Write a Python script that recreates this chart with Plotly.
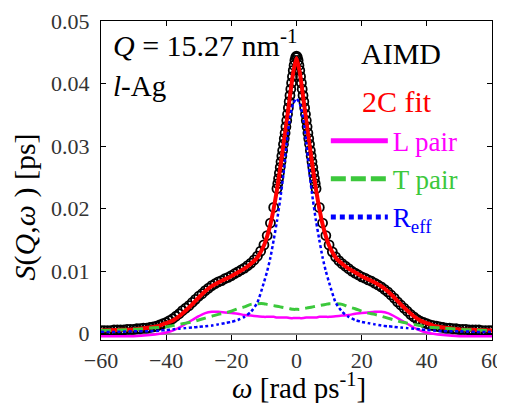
import plotly.graph_objects as go

# ---------------- data ----------------
omega_aimd = [-60, -59, -58, -57, -56, -55, -54, -53, -52, -51, -50, -49, -48, -47, -46, -45, -44, -43, -42, -41,
              -40, -39, -38, -37, -36, -35, -34, -33, -32, -31, -30, -29, -28, -27, -26, -25, -24, -23, -22, -21,
              -20, -19, -18, -17, -16, -15, -14, -13, -12, -11, -10, -9, -8, -7, -6,
              -5.75, -5.5, -5.25, -5, -4.75, -4.5, -4.25, -4, -3.75, -3.5, -3.25, -3, -2.75, -2.5, -2.25, -2,
              -1.75, -1.5, -1.25, -1, -0.75, -0.5, -0.25, 0, 0.25, 0.5, 0.75, 1, 1.25, 1.5, 1.75,
              2, 2.25, 2.5, 2.75, 3, 3.25, 3.5, 3.75, 4, 4.25, 4.5, 4.75, 5, 5.25, 5.5, 5.75,
              6, 7, 8, 9, 10, 11, 12, 13, 14, 15, 16, 17, 18, 19, 20, 21, 22, 23, 24, 25, 26, 27, 28, 29,
              30, 31, 32, 33, 34, 35, 36, 37, 38, 39, 40, 41, 42, 43, 44, 45, 46, 47, 48, 49, 50, 51, 52,
              53, 54, 55, 56, 57, 58, 59, 60]
s_aimd = [0.0005, 0.0005, 0.0005, 0.0005, 0.0006, 0.0006, 0.0006, 0.0006, 0.0007, 0.0007, 0.0007, 0.0008, 0.0008,
          0.0009, 0.0009, 0.0010, 0.0011, 0.0012, 0.0014, 0.0016, 0.0018, 0.0021, 0.0024, 0.0028, 0.0032, 0.0037,
          0.0041, 0.0045, 0.0050, 0.0055, 0.0060, 0.0064, 0.0069, 0.0073, 0.0077, 0.0080, 0.0083, 0.0085, 0.0088,
          0.0090, 0.0093, 0.0096, 0.0099, 0.0102, 0.0105, 0.0109, 0.0113, 0.0118, 0.0124, 0.0132, 0.0142, 0.0157,
          0.0177, 0.0202, 0.0232,
          0.0240, 0.0248, 0.0257, 0.0266, 0.0275, 0.0284, 0.0293, 0.0303, 0.0312, 0.0321, 0.0331, 0.0341, 0.0351,
          0.0361, 0.0371, 0.0381, 0.0391, 0.0401, 0.0411, 0.0421, 0.0429, 0.0437, 0.0442, 0.0444, 0.0442, 0.0437,
          0.0429, 0.0421, 0.0411, 0.0401, 0.0391, 0.0381, 0.0371, 0.0361, 0.0351, 0.0341, 0.0331, 0.0321, 0.0312,
          0.0303, 0.0293, 0.0284, 0.0275, 0.0266, 0.0257, 0.0248, 0.0240,
          0.0232, 0.0202, 0.0177, 0.0157, 0.0142, 0.0131, 0.0123, 0.0117, 0.0112, 0.0108, 0.0104, 0.0100, 0.0097,
          0.0094, 0.0091, 0.0089, 0.0086, 0.0084, 0.0081, 0.0078, 0.0075, 0.0071, 0.0067, 0.0062, 0.0057, 0.0051,
          0.0046, 0.0041, 0.0036, 0.0031, 0.0027, 0.0023, 0.0020, 0.0018, 0.0016, 0.0014, 0.0013, 0.0012, 0.0011,
          0.0010, 0.0009, 0.0009, 0.0008, 0.0008, 0.0007, 0.0007, 0.0007, 0.0006, 0.0006, 0.0006, 0.0006, 0.0005,
          0.0005, 0.0005, 0.0005]

omega_line = [-60, -55, -50, -45, -42, -40, -38, -36, -34, -32, -30, -28, -26, -24, -22, -20, -18, -16, -14, -12,
              -10, -9, -8, -7, -6, -5, -4, -3, -2, -1, 0, 1, 2, 3, 4, 5, 6, 7, 8, 9, 10,
              12, 14, 16, 18, 20, 22, 24, 26, 28, 30, 32, 34, 36, 38, 40, 42, 45, 50, 55, 60]
s_fit = [0.0005, 0.0006, 0.0007, 0.0010, 0.0013, 0.0017, 0.0021, 0.0028, 0.0037, 0.0047, 0.0058, 0.0068, 0.0076,
         0.0082, 0.0087, 0.0092, 0.0098, 0.0104, 0.0112, 0.0122, 0.0141, 0.0156, 0.0175, 0.0200, 0.0230, 0.0265,
         0.0302, 0.0340, 0.0380, 0.0418, 0.0441, 0.0418, 0.0380, 0.0340, 0.0302, 0.0265, 0.0230, 0.0200, 0.0175,
         0.0156, 0.0141, 0.0122, 0.0112, 0.0104, 0.0098, 0.0092, 0.0087, 0.0082, 0.0076, 0.0068, 0.0058, 0.0047,
         0.0037, 0.0028, 0.0021, 0.0017, 0.0013, 0.0010, 0.0007, 0.0006, 0.0005]
s_L = [-0.0004, -0.0004, -0.0004, -0.0002, 0.0000, 0.0002, 0.0005, 0.0010, 0.0016, 0.0022, 0.0028, 0.0033, 0.0035,
       0.0035, 0.0034, 0.0033, 0.0032, 0.0030, 0.0029, 0.0028, 0.0027, 0.0027, 0.0027, 0.0027, 0.0026, 0.0026,
       0.0026, 0.0026, 0.0025, 0.0025, 0.0025, 0.0025, 0.0025, 0.0026, 0.0026, 0.0026, 0.0026, 0.0027, 0.0027,
       0.0027, 0.0027, 0.0028, 0.0029, 0.0030, 0.0032, 0.0033, 0.0034, 0.0035, 0.0035, 0.0033, 0.0028, 0.0022,
       0.0016, 0.0010, 0.0005, 0.0002, 0.0000, -0.0002, -0.0004, -0.0004, -0.0004]
s_T = [0.0005, 0.0006, 0.0007, 0.0009, 0.0010, 0.0011, 0.0013, 0.0015, 0.0017, 0.0019, 0.0022, 0.0025, 0.0028,
       0.0031, 0.0033, 0.0036, 0.0040, 0.0043, 0.0047, 0.0048, 0.0048, 0.0047, 0.0046, 0.0045, 0.0044, 0.0043,
       0.0042, 0.0041, 0.0040, 0.0039, 0.0039, 0.0039, 0.0040, 0.0041, 0.0042, 0.0043, 0.0044, 0.0045, 0.0046,
       0.0047, 0.0048, 0.0048, 0.0047, 0.0043, 0.0040, 0.0036, 0.0033, 0.0031, 0.0028, 0.0025, 0.0022, 0.0019,
       0.0017, 0.0015, 0.0013, 0.0011, 0.0010, 0.0009, 0.0007, 0.0006, 0.0005]
s_R = [0.0003, 0.0003, 0.0004, 0.0004, 0.0005, 0.0006, 0.0007, 0.0008, 0.0009, 0.0010, 0.0011, 0.0012, 0.0013,
       0.0015, 0.0017, 0.0019, 0.0022, 0.0027, 0.0035, 0.0050, 0.0082, 0.0100, 0.0122, 0.0150, 0.0180, 0.0215,
       0.0255, 0.0305, 0.0345, 0.0368, 0.0376, 0.0368, 0.0345, 0.0305, 0.0255, 0.0215, 0.0180, 0.0150, 0.0122,
       0.0100, 0.0082, 0.0050, 0.0035, 0.0027, 0.0022, 0.0019, 0.0017, 0.0015, 0.0013, 0.0012, 0.0011, 0.0010,
       0.0009, 0.0008, 0.0007, 0.0006, 0.0005, 0.0004, 0.0004, 0.0003, 0.0003]

x_ticks = [-60, -40, -20, 0, 20, 40, 60]
y_ticks = [0, 0.01, 0.02, 0.03, 0.04, 0.05]
y_tick_text = ["0", "0.01", "0.02", "0.03", "0.04", "0.05"]

FONT = "Times New Roman"
MAG = "#FF00FF"
GRN = "#3CC83C"
BLU = "#0000FF"

fig = go.Figure()
fig.add_trace(go.Scatter(x=omega_aimd, y=s_aimd, mode="markers", showlegend=False,
                         marker=dict(symbol="circle-open", size=9, color="black",
                                     line=dict(width=1.8, color="black"))))
fig.add_trace(go.Scatter(x=omega_line, y=s_fit, mode="lines", showlegend=False,
                         line=dict(color="#FF0000", width=4, shape="spline", smoothing=0.6)))
fig.add_trace(go.Scatter(x=omega_line, y=s_L, mode="lines", showlegend=False,
                         line=dict(color=MAG, width=2.5, shape="spline", smoothing=0.8)))
fig.add_trace(go.Scatter(x=omega_line, y=s_T, mode="lines", showlegend=False,
                         line=dict(color=GRN, width=3, dash="10px,6px", shape="spline", smoothing=0.8)))
fig.add_trace(go.Scatter(x=omega_line, y=s_R, mode="lines", showlegend=False,
                         line=dict(color=BLU, width=2.5, dash="3px,2.5px", shape="spline", smoothing=0.6)))

# legend-only entries (thicker samples as in the reference)
fig.add_trace(go.Scatter(x=[None], y=[None], mode="lines", name="<span style='color:#FF00FF'>L pair</span>",
                         line=dict(color=MAG, width=5)))
fig.add_trace(go.Scatter(x=[None], y=[None], mode="lines", name="<span style='color:#3CC83C'>T pair</span>",
                         line=dict(color=GRN, width=5, dash="15px,5px")))
fig.add_trace(go.Scatter(x=[None], y=[None], mode="lines",
                         name="<span style='color:#0000FF'>R<sub>eff</sub></span>",
                         line=dict(color=BLU, width=5, dash="5px,4px")))

# page body has an 8px margin: plot area placed at window px (101..492, 21..340)
fig.update_layout(
    width=497, height=395,
    margin=dict(l=93, r=13, t=13, b=63),
    paper_bgcolor="white", plot_bgcolor="white",
    font=dict(family=FONT, size=21, color="#333333"),
    legend=dict(x=0.575, y=0.70, xanchor="left", yanchor="top", bgcolor="rgba(0,0,0,0)",
                font=dict(family=FONT, size=27), itemwidth=57, tracegroupgap=0),
    xaxis=dict(range=[-60, 60], tickvals=x_ticks, ticks="inside", ticklen=5, tickwidth=1, tickcolor="black",
               showline=True, linecolor="black", linewidth=1.3, mirror="ticks", showgrid=False, zeroline=False,
               tickfont=dict(family=FONT, size=22, color="#333333"), automargin=False),
    yaxis=dict(range=[-0.001, 0.05], tickvals=y_ticks, ticktext=y_tick_text, ticks="inside", ticklen=5,
               tickwidth=1, tickcolor="black", showline=True, linecolor="black", linewidth=1.3, mirror="ticks",
               showgrid=False, zeroline=True, zerolinecolor="#8c8c8c", zerolinewidth=1.5,
               tickfont=dict(family=FONT, size=22, color="#333333"), ticklabelstandoff=6, automargin=False),
    annotations=[
        dict(text="<i>ω</i> [rad ps<sup>-1</sup>]", xref="paper", yref="paper", x=0.506, y=-0.145,
             xanchor="center", yanchor="middle", showarrow=False, font=dict(family=FONT, size=29, color="black")),
        dict(text="<i>S</i>(<i>Q</i>,<i>ω</i> ) [ps]", xref="paper", yref="paper", x=-0.195, y=0.418,
             xanchor="center", yanchor="middle", textangle=-90, showarrow=False,
             font=dict(family=FONT, size=30, color="black")),
        dict(text="<i>Q</i> = 15.27 nm<sup>-1</sup>", xref="paper", yref="paper", x=0.0256, y=0.931,
             xanchor="left", yanchor="middle", showarrow=False,
             font=dict(family=FONT, size=30, color="black")),
        dict(text="<i>l</i>-Ag", xref="paper", yref="paper", x=0.0256, y=0.796,
             xanchor="left", yanchor="middle", showarrow=False,
             font=dict(family=FONT, size=29, color="black")),
        dict(text="AIMD", xref="paper", yref="paper", x=0.767, y=0.897,
             xanchor="center", yanchor="middle", showarrow=False, font=dict(family=FONT, size=30, color="black")),
        dict(text="2C fit", xref="paper", yref="paper", x=0.756, y=0.749,
             xanchor="center", yanchor="middle", showarrow=False, font=dict(family=FONT, size=30, color="#FF0000")),
    ],
)

fig.write_html("out.html")
